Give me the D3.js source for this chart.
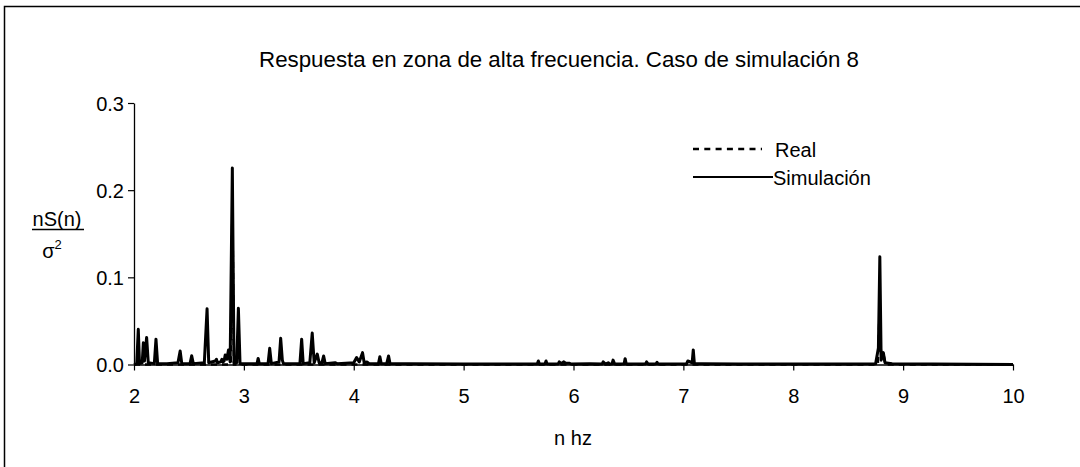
<!DOCTYPE html>
<html><head><meta charset="utf-8">
<script src="https://cdn.jsdelivr.net/npm/d3@7"></script>
<style>body{margin:0;background:#fff;}text{font-family:"Liberation Sans",Arial,sans-serif;fill:#000;}</style>
</head><body><svg id="c" width="1080" height="467"></svg>
<script>
const title = "Respuesta en zona de alta frecuencia. Caso de simulación 8";
const xTicks = [2,3,4,5,6,7,8,9,10];
const yTicks = [0.0,0.1,0.2,0.3];
const yTickLabels = ["0.0","0.1","0.2","0.3"];
const seriesNames = ["Real","Simulación"];
const simFreq = [2.00,2.025,2.039,2.05,2.075,2.085,2.095,2.115,2.13,2.185,2.20,2.215,2.30,2.40,2.42,2.435,2.51,2.525,2.54,2.64,2.665,2.68,2.74,2.75,2.76,2.79,2.80,2.81,2.82,2.83,2.845,2.86,2.875,2.895,2.91,2.935,2.95,2.965,3.05,3.12,3.13,3.14,3.22,3.235,3.25,3.32,3.335,3.35,3.36,3.51,3.526,3.54,3.60,3.622,3.64,3.668,3.685,3.71,3.726,3.74,3.83,3.85,4.00,4.026,4.05,4.08,4.095,4.12,4.14,4.225,4.238,4.25,4.30,4.317,4.33,4.50,5.00,5.67,5.68,5.69,5.74,5.75,5.76,5.86,5.87,5.89,5.91,5.93,5.96,5.98,6.15,6.26,6.27,6.29,6.316,6.33,6.35,6.36,6.375,6.46,6.47,6.48,6.655,6.665,6.68,6.75,6.76,6.77,7.03,7.04,7.08,7.09,7.10,7.165,7.5,8.5,8.75,8.775,8.788,8.80,8.82,8.835,8.9,10.0];
const simVal  = [0.000,0.001,0.0405,0.001,0.002,0.025,0.004,0.031,0.002,0.001,0.029,0.001,0.001,0.002,0.0155,0.001,0.001,0.010,0.001,0.002,0.064,0.002,0.004,0.006,0.002,0.003,0.006,0.003,0.004,0.011,0.006,0.0167,0.003,0.2255,0.002,0.002,0.0646,0.001,0.001,0.001,0.007,0.001,0.001,0.0186,0.001,0.003,0.030,0.005,0.001,0.001,0.029,0.001,0.002,0.036,0.002,0.012,0.002,0.002,0.0098,0.001,0.002,0.001,0.002,0.008,0.003,0.0136,0.002,0.003,0.001,0.001,0.009,0.001,0.001,0.0098,0.001,0.001,0.0005,0.0005,0.004,0.0005,0.0005,0.004,0.0005,0.0005,0.003,0.001,0.003,0.0015,0.0015,0.0005,0.001,0.0005,0.003,0.0005,0.002,0.0005,0.0005,0.005,0.0005,0.0005,0.0067,0.0005,0.0005,0.003,0.0005,0.0005,0.0025,0.0005,0.001,0.004,0.002,0.0167,0.001,0.001,0.0005,0.0005,0.001,0.019,0.1236,0.005,0.0136,0.002,0.001,0.000];
const realFreq = [2.00,2.88,2.895,2.91,8.77,8.785,8.80,8.82,8.84,10.0];
const realVal  = [0.000,0.000,0.18,0.000,0.000,0.06,0.01,0.012,0.000,0.000];

const FS = "20px";
const svg = d3.select("#c");
svg.append("rect").attr("x",4.5).attr("y",6.5).attr("width",1100).attr("height",500)
  .attr("fill","none").attr("stroke","#000").attr("stroke-width",1.5);

const x = d3.scaleLinear().domain([2,10]).range([134,1013]);
const y = d3.scaleLinear().domain([0,0.3]).range([364.5,103]);

svg.append("text").attr("x",559).attr("y",67).attr("text-anchor","middle")
  .style("font-size","22.3px").text(title);

// axes
const xa = svg.append("g").attr("transform","translate(0,364.5)")
  .call(d3.axisBottom(x).tickValues(xTicks).tickFormat(d3.format("d")).tickSize(6).tickSizeOuter(0));
const ya = svg.append("g").attr("transform","translate(134,0)")
  .call(d3.axisLeft(y).tickValues(yTicks).tickFormat((d,i)=>yTickLabels[i]).tickSize(6).tickSizeOuter(0));
[xa,ya].forEach(g=>{
  g.select(".domain").attr("stroke","#000").attr("stroke-width",1.3);
  g.selectAll(".tick line").attr("stroke","#000").attr("stroke-width",1.2);
  g.selectAll(".tick text").style("font-size",FS).style("font-family","Liberation Sans, Arial, sans-serif").attr("fill","#000");
});
xa.selectAll(".tick text").attr("dy",null).attr("y",38);
ya.selectAll(".tick text").attr("x",-10).attr("dy","0.36em");

svg.append("text").attr("x",573).attr("y",445).attr("text-anchor","middle").style("font-size",FS).text("n hz");

// y label fraction
svg.append("text").attr("x",57).attr("y",226).attr("text-anchor","middle").style("font-size",FS).text("nS(n)");
svg.append("line").attr("x1",32).attr("x2",84).attr("y1",229.5).attr("y2",229.5).attr("stroke","#000").attr("stroke-width",1.6);
const sg = svg.append("text").attr("x",52).attr("y",258).attr("text-anchor","middle").style("font-size",FS);
sg.append("tspan").text("σ");
sg.append("tspan").attr("dy",-9).style("font-size","13px").text("2");

const line = d3.line().x(d=>x(d[0])).y(d=>y(d[1]));
const realData = realFreq.map((f,i)=>[f,realVal[i]]);
const simData = simFreq.map((f,i)=>[f,simVal[i]]);
svg.append("path").datum(realData).attr("d",line).attr("fill","none").attr("stroke","#000")
  .attr("stroke-width",2.5).attr("stroke-dasharray","6,5");
svg.append("path").datum(simData).attr("d",line).attr("fill","none").attr("stroke","#000")
  .attr("stroke-width",3).attr("stroke-linejoin","round");

// legend
svg.append("line").attr("x1",693).attr("x2",762).attr("y1",149).attr("y2",149).attr("stroke","#000").attr("stroke-width",2.5).attr("stroke-dasharray","6,5.3");
svg.append("text").attr("x",775).attr("y",156.5).style("font-size",FS).text(seriesNames[0]);
svg.append("line").attr("x1",693).attr("x2",773).attr("y1",177).attr("y2",177).attr("stroke","#000").attr("stroke-width",2.2);
svg.append("text").attr("x",773).attr("y",184.5).style("font-size",FS).text(seriesNames[1]);
</script></body></html>
